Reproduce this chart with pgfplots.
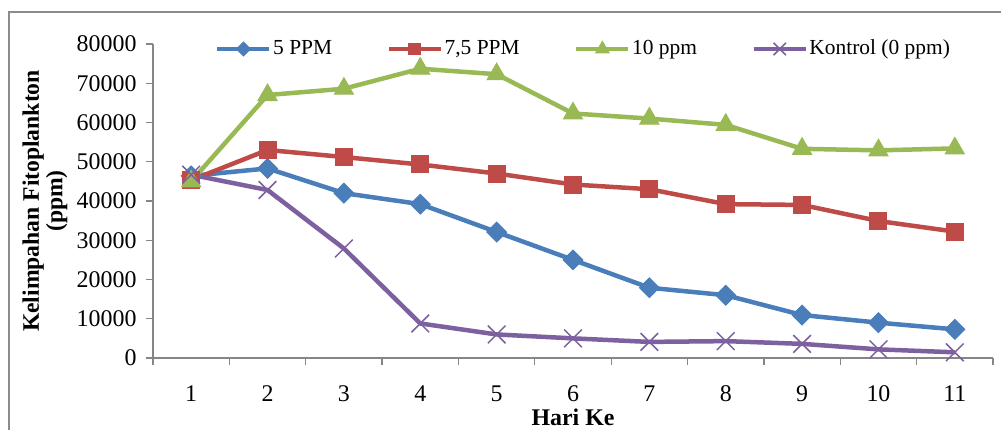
\documentclass[border=0pt]{standalone}
\usepackage{pgfplots}
\pgfplotsset{compat=1.18}
\usepackage{fontspec}
\setmainfont{Liberation Serif}
\definecolor{c1}{HTML}{4A7EBB}
\definecolor{c2}{HTML}{BE4B48}
\definecolor{c3}{HTML}{98B954}
\definecolor{c4}{HTML}{7D60A0}
\definecolor{axgray}{HTML}{868686}
\definecolor{bordergray}{HTML}{8C8C8C}
\begin{document}
\fontsize{22}{26}\selectfont
\begin{tikzpicture}
\path[use as bounding box] (0bp,0bp) rectangle (1001bp,430bp);
\draw[line width=2bp, bordergray] (9bp,-10bp) -- (9bp,418bp) -- (1020bp,418bp);
\begin{axis}[
  at={(153bp,72bp)}, anchor=south west,
  scale only axis, width=840bp, height=314bp,
  xmin=0.5, xmax=11.5, ymin=0, ymax=80000,
  axis lines=left,
  axis line style={-, draw=axgray, line width=1.3bp},
  tick align=outside,
  xtick={1,...,11},
  minor xtick={0.5,1.5,...,11.5},
  major x tick style={draw=none},
  ytick={0,10000,...,80000},
  major tick length=7bp, minor tick length=7bp,
  tick style={draw=axgray, line width=1.3bp},
  scaled y ticks=false,
  yticklabel style={font=\fontsize{24}{28}\selectfont, xshift=-2bp, /pgf/number format/fixed, /pgf/number format/1000 sep={}, /pgf/number format/assume math mode=true},
  xticklabel style={font=\fontsize{24}{28}\selectfont, yshift=-13bp, /pgf/number format/assume math mode=true},
  ylabel={Kelimpahan Fitoplankton\\(ppm)},
  ylabel style={at={(axis description cs:-0.1286,0.5)}, anchor=center, align=center, font=\fontsize{23.7}{23.5}\selectfont\bfseries},
  xlabel={Hari Ke},
  xlabel style={at={(axis description cs:0.5,-0.188)}, anchor=center, font=\fontsize{24}{28}\selectfont\bfseries},
  legend columns=-1,
  legend style={at={(axis description cs:0.0738,0.984)}, anchor=west, draw=none, fill=none, inner sep=0pt,
    font=\fontsize{21.5}{26}\selectfont,
    nodes={inner sep=1.5bp},
    /tikz/every even column/.append style={column sep=53bp}},
  legend image code/.code={\draw[mark repeat=2, mark phase=2, every mark/.append style={scale=0.7}] plot coordinates {(0bp,0bp) (26bp,0bp) (52bp,0bp)};},
  every axis plot/.append style={line width=4.5bp},
]
\addplot[c1, mark=square*, mark size=7bp, mark options={rotate=45, line width=1bp, fill=c1}] coordinates {
(1,46400) (2,48300) (3,42000) (4,39200) (5,32100) (6,25000) (7,17900) (8,16000) (9,10950) (10,9000) (11,7300)};
\addlegendentry{5 PPM}
\addplot[c2, mark=square*, mark size=8.5bp, mark options={line width=1bp, fill=c2}] coordinates {
(1,45300) (2,53000) (3,51200) (4,49300) (5,47000) (6,44200) (7,43000) (8,39200) (9,39000) (10,34900) (11,32200)};
\addlegendentry{7,5 PPM}
\addplot[c3, mark=triangle*, mark size=11bp, mark options={line width=1bp, fill=c3}] coordinates {
(1,45000) (2,67000) (3,68600) (4,73700) (5,72300) (6,62300) (7,61000) (8,59400) (9,53300) (10,52900) (11,53400)};
\addlegendentry{10 ppm}
\addplot[c4, mark=x, mark size=12.5bp, mark options={line width=1.5bp}] coordinates {
(1,46700) (2,42800) (3,27900) (4,8800) (5,6000) (6,5000) (7,4100) (8,4300) (9,3600) (10,2200) (11,1450)};
\addlegendentry{Kontrol (0 ppm)}
\end{axis}
\end{tikzpicture}
\end{document}
